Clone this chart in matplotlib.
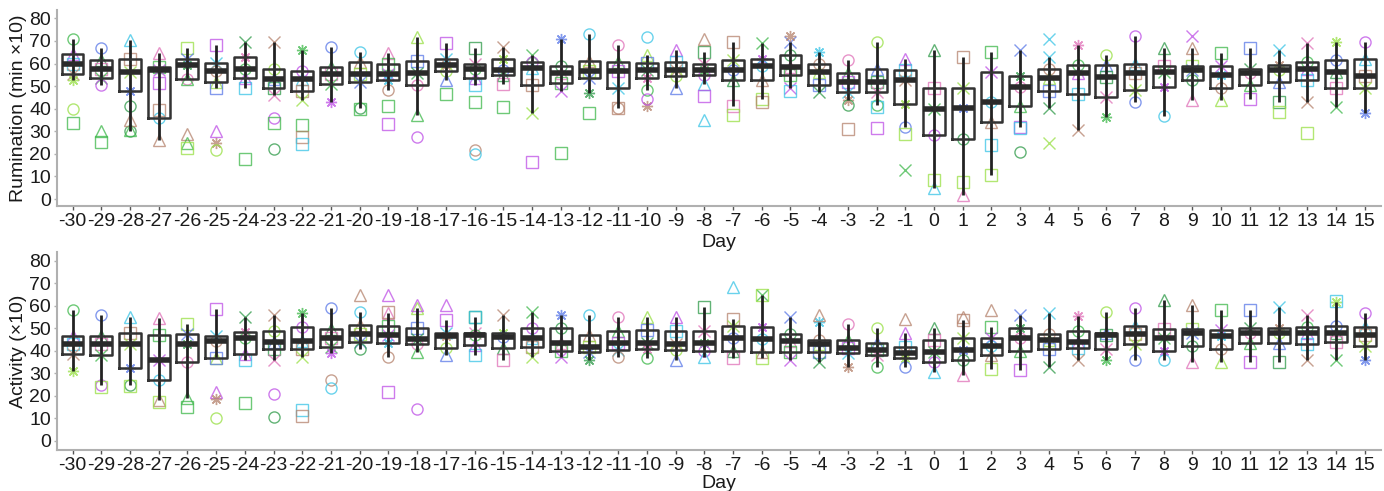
import matplotlib
matplotlib.use("Agg")
import matplotlib.pyplot as plt

# ---------------- data ----------------
days = list(range(-30, 16))
day_labels = [str(d) for d in days]

# Rumination (min x10): lower whisker, Q1, median, Q3, upper whisker
rum_lo  = [52.7, 50.4, 30.2, 26.1, 53.0, 49.0, 49.0, 46.0, 43.8, 43.0, 40.1, 48.2, 37.2, 52.7,
           50.4, 51.0, 37.9, 48.0, 46.8, 40.1, 48.2, 49.0, 51.0, 41.2, 44.1, 49.0, 47.5, 43.8,
           41.6, 32.0, 4.7, 1.8, 10.6, 32.0, 40.1, 30.5, 36.4, 43.0, 36.7, 43.8, 43.8, 44.5,
           43.0, 43.0, 40.9, 38.2]
rum_q1  = [55.2, 53.4, 47.9, 35.7, 53.0, 51.9, 53.4, 49.0, 47.9, 50.9, 51.9, 52.7, 50.4, 56.8,
           53.4, 54.9, 50.4, 51.5, 53.4, 49.0, 53.8, 54.4, 54.9, 52.7, 52.7, 54.9, 50.7, 47.5,
           47.5, 42.0, 28.3, 26.8, 34.2, 41.2, 47.9, 46.3, 45.0, 48.2, 49.7, 52.7, 49.0, 50.4,
           51.9, 52.9, 49.3, 49.0]
rum_med = [60.0, 57.8, 56.3, 57.0, 59.3, 56.8, 57.8, 53.1, 53.1, 55.3, 55.3, 55.3, 55.9, 59.3,
           57.5, 57.0, 58.0, 55.6, 56.6, 56.6, 57.0, 57.0, 57.0, 57.0, 58.8, 58.6, 56.3, 51.9,
           51.9, 52.7, 39.7, 40.1, 43.0, 49.7, 53.4, 55.9, 54.1, 55.6, 56.3, 57.0, 54.9, 55.6,
           57.0, 57.4, 56.3, 54.4]
rum_q3  = [64.4, 61.5, 61.8, 58.6, 62.2, 60.3, 62.7, 57.8, 56.8, 58.6, 60.8, 59.6, 61.0, 62.2,
           60.0, 61.8, 60.8, 58.8, 61.0, 60.8, 60.3, 60.5, 60.0, 61.5, 62.2, 63.7, 60.0, 55.9,
           57.8, 57.0, 49.0, 49.3, 56.3, 54.4, 57.4, 59.3, 59.3, 60.0, 58.8, 58.8, 58.8, 57.8,
           59.3, 60.8, 61.5, 62.2]
rum_hi  = [71.0, 67.0, 70.4, 64.5, 66.7, 68.0, 69.6, 69.6, 65.9, 67.4, 65.2, 64.5, 71.8, 68.9,
           66.7, 67.4, 63.7, 71.0, 73.0, 68.0, 63.7, 66.0, 65.2, 69.6, 68.9, 69.6, 65.2, 61.5,
           69.6, 62.2, 65.9, 63.0, 65.2, 65.9, 63.0, 68.0, 63.7, 72.0, 66.7, 66.7, 64.5, 66.7,
           65.9, 68.9, 69.6, 69.6]
rum_extra = [[40, 33.5], [30, 25.4], [41, 35, 30.5], [51.5, 39.5], [29, 25, 22.7], [30, 24.6, 21.7],
             [17.6], [36, 33.8, 22], [33, 27.6, 24.2], [], [40], [41.2, 33.2], [27.6], [46.3],
             [43, 21.7, 20], [40.9], [16.2], [20.2], [37.9], [40.1], [71.8, 41.2, 44.5], [],
             [71, 45.6, 35], [37.2], [43], [72, 48], [], [41.6, 31], [40.9, 31.3], [29, 12.8],
             [8.4], [7.7], [24], [20.9, 31.3], [71, 25], [], [], [], [], [72], [], [], [38.6],
             [29.4], [], []]

# Activity (x10)
act_lo  = [31.0, 24.7, 24.7, 18.1, 18.8, 36.6, 35.9, 35.9, 37.3, 38.8, 41.0, 37.3, 39.3, 38.0,
           38.0, 35.9, 37.3, 37.3, 35.9, 37.3, 36.6, 35.9, 37.3, 36.6, 36.6, 35.9, 35.1, 32.9,
           32.9, 32.9, 30.7, 29.2, 32.1, 31.4, 32.9, 35.9, 35.9, 35.9, 35.9, 35.1, 35.1, 35.1,
           35.1, 35.9, 35.9, 35.9]
act_q1  = [38.4, 38.1, 32.4, 27.0, 34.8, 36.9, 38.4, 40.7, 40.7, 41.8, 44.0, 43.3, 42.8, 41.3,
           42.5, 41.3, 41.8, 39.9, 39.6, 40.3, 41.0, 40.3, 39.9, 39.9, 39.6, 39.3, 39.6, 38.8,
           38.1, 36.9, 35.1, 36.1, 38.1, 39.9, 40.7, 41.3, 41.0, 42.8, 39.9, 42.2, 41.0, 43.3,
           43.3, 43.0, 43.7, 42.2]
act_med = [42.8, 43.0, 42.8, 35.9, 42.8, 44.4, 45.5, 44.0, 44.3, 45.8, 47.3, 47.0, 45.2, 46.7,
           47.0, 46.2, 45.5, 43.3, 41.8, 43.3, 43.6, 43.0, 43.3, 45.8, 45.2, 44.3, 42.8, 41.3,
           40.3, 38.8, 39.3, 40.3, 42.2, 45.8, 45.0, 44.0, 47.0, 47.3, 45.8, 47.7, 46.7, 47.7,
           48.1, 47.7, 47.7, 47.0]
act_q3  = [46.7, 46.5, 47.7, 47.0, 47.3, 46.7, 48.4, 48.7, 50.7, 49.6, 51.4, 51.1, 49.9, 48.1,
           48.1, 48.1, 49.9, 49.9, 47.0, 48.7, 49.2, 48.7, 48.7, 51.0, 50.7, 47.3, 45.0, 44.7,
           43.6, 41.8, 44.7, 45.8, 45.8, 50.2, 47.3, 48.7, 48.1, 51.1, 49.6, 49.6, 49.2, 49.9,
           49.9, 50.4, 51.1, 50.7]
act_hi  = [58.0, 55.9, 55.0, 54.4, 52.1, 58.5, 55.1, 55.9, 56.6, 58.8, 57.3, 56.6, 58.8, 53.6,
           55.1, 55.9, 57.3, 55.9, 55.9, 55.1, 55.1, 55.1, 59.6, 54.1, 65.0, 55.1, 52.9, 52.1,
           50.2, 48.1, 49.9, 53.6, 50.7, 55.9, 56.6, 55.6, 57.3, 58.8, 62.5, 60.3, 58.1, 58.1,
           59.6, 55.9, 61.8, 56.6]
act_extra = [[], [24], [24.5], [17.3], [15], [21.8, 18.5, 10.2], [16.6], [21, 10.7], [13.6, 11],
             [27, 23.3], [65], [64.7, 57.3, 21.5], [60.3, 14.1], [60.3], [55], [], [], [], [],
             [], [], [], [], [68.4], [65], [], [55.9], [], [], [54.1], [], [55.1], [58.1], [],
             [], [], [], [], [], [], [], [], [], [], [62], []]

# ---------------- style ----------------
palette = {'g': '#3DB84A', 'l': '#98E044', 'c': '#38C4E6', 'm': '#BE4FE6',
           'b': '#B5826C', 'd': '#2E9A48', 'u': '#5A78E8', 'p': '#E070B8'}
mk_map = {'o': 'o', '^': '^', 's': 's', 'x': 'x', '*': (8, 2, 0)}
cycle_colors = ['g', 'm', 'c', 'b', 'l', 'u', 'd', 'p']
cycle_markers = ['o', '^', 's', 'x', '*', 'o', '^', 's', 'x']

rum_extra_sty = [['ol', 'sg'], ['^g', 'sg'], ['od', '^b', '^g'], ['sm', 'sb'], ['^b', '^g', 'sl'],
                 ['^m', '*b', 'ol'], ['sg'], ['om', 'sg', 'od'], ['sg', 'sb', 'sc'], [], ['sg'],
                 ['sg', 'sm'], ['om'], ['sg'], ['sg', 'ob', 'oc'], ['sg'], ['sm'], ['sg'], ['sg'],
                 ['sb'], ['oc', '*b', 'om'], [], ['^b', 'sm', '^c'], ['sl'], ['sb'], ['*b', 'sc'],
                 [], ['od', 'sb'], ['sc', 'sm'], ['sl', 'xg'], ['sl'], ['sl'], ['sc'], ['od', 'sc'],
                 ['xc', 'xl'], [], [], [], [], ['xm'], [], [], ['sl'], ['sl'], [], []]
act_extra_sty = [[], ['sl'], ['sl'], ['sl'], ['sg'], ['^m', '*b', 'ol'], ['sg'], ['om', 'od'],
                 ['sc', 'sb'], ['ob', 'oc'], ['^b'], ['^m', 'sb', 'sm'], ['^m', 'om'], ['^m'],
                 ['sc'], [], [], [], [], [], [], [], [], ['^c'], ['sl'], [], ['^b'], [], [],
                 ['^b'], [], ['^b'], ['^b'], [], [], [], [], [], [], [], [], [], [], [],
                 ['sc'], []]

plt.rcParams['font.family'] = ['Liberation Sans', 'DejaVu Sans']
plt.rcParams['axes.unicode_minus'] = False

fig = plt.figure(figsize=(13.84, 4.91), dpi=100)
ax1 = fig.add_axes([0.041, 0.5804, 0.9565, 0.3992])
ax2 = fig.add_axes([0.041, 0.0835, 0.9565, 0.4033])


def put(ax, x, v, m, c):
    if m == 'x' or isinstance(m, tuple):
        ax.plot(x, v, linestyle='none', marker=m, color=c, markersize=8,
                markeredgewidth=1.0, alpha=0.75, zorder=2)
    else:
        ax.plot(x, v, linestyle='none', marker=m, markerfacecolor='none',
                markeredgecolor=c, markersize=8, markeredgewidth=1.0,
                alpha=0.75, zorder=2)


def draw(ax, lo, q1, med, q3, hi, extra, extra_sty, ylabel, ylim, lpad):
    k = 0
    for i, d in enumerate(days):
        for v in [hi[i], q3[i], med[i], q1[i], lo[i]]:
            put(ax, d, v, mk_map[cycle_markers[k % len(cycle_markers)]],
                palette[cycle_colors[k % len(cycle_colors)]])
            k += 1
        for v, sty in zip(extra[i], extra_sty[i]):
            put(ax, d, v, mk_map[sty[0]], palette[sty[1]])
    ax.vlines(days, lo, hi, colors='#222222', linewidth=2.0, zorder=3)
    stats = []
    for i in range(len(days)):
        stats.append(dict(med=med[i], q1=q1[i], q3=q3[i], whislo=q1[i], whishi=q3[i], fliers=[]))
    ax.bxp(stats, positions=days, widths=0.76, showcaps=False, showfliers=False,
           patch_artist=False, manage_ticks=False,
           boxprops=dict(color='#333333', linewidth=1.8),
           medianprops=dict(color='#2a2a2a', linewidth=4.0),
           whiskerprops=dict(linewidth=0), zorder=4)
    ax.set_xlim(-30.55, 15.55)
    ax.set_ylim(*ylim)
    ax.set_xticks(days)
    ax.set_xticklabels(day_labels)
    ax.set_yticks(range(0, 81, 10))
    ax.set_yticklabels([str(v) for v in range(0, 81, 10)])
    for s in ('top', 'right'):
        ax.spines[s].set_visible(False)
    for s in ('left', 'bottom'):
        ax.spines[s].set_color('#b0b0b0')
        ax.spines[s].set_linewidth(1.5)
    ax.tick_params(axis='x', length=3, width=1, color='#555555', pad=2,
                   labelsize=14, labelcolor='#1a1a1a')
    ax.tick_params(axis='y', length=2, width=1, color='#b0b0b0', pad=2,
                   labelsize=14, labelcolor='#1a1a1a')
    ax.set_xlabel('Day', fontsize=14, color='#1a1a1a', labelpad=lpad)
    ax.set_ylabel(ylabel, fontsize=14, color='#1a1a1a', labelpad=2)


draw(ax1, rum_lo, rum_q1, rum_med, rum_q3, rum_hi, rum_extra, rum_extra_sty,
     'Rumination (min \u00d710)', (-3.1, 83.7), 3)
draw(ax2, act_lo, act_q1, act_med, act_q3, act_hi, act_extra, act_extra_sty,
     'Activity (\u00d710)', (-4.1, 83.9), 1)

fig.savefig('out.png', dpi=100)
